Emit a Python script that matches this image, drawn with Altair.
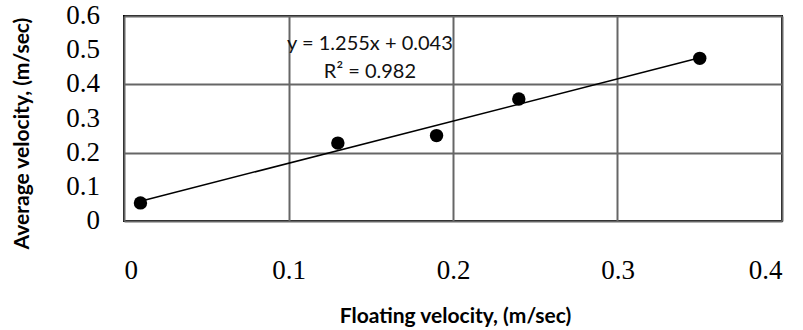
import altair as alt
import pandas as pd

floating_velocity = [0.01, 0.13, 0.19, 0.24, 0.35]
average_velocity = [0.053, 0.228, 0.25, 0.357, 0.476]
x_ticks = [0, 0.1, 0.2, 0.3, 0.4]
y_ticks = [0, 0.1, 0.2, 0.3, 0.4, 0.5, 0.6]
y_tick_labels = ["0", "0.1", "0.2", "0.3", "0.4", "0.5", "0.6"]
eq_labels = ["y = 1.255x + 0.043", "R² = 0.982"]
eq_x = [0.1495, 0.1495]
eq_y = [0.519, 0.437]

df = pd.DataFrame({"x": floating_velocity, "y": average_velocity})
ann = pd.DataFrame({"label": eq_labels, "x": eq_x, "y": eq_y})
ylab = pd.DataFrame({"y": y_ticks, "label": y_tick_labels})

xscale = alt.Scale(domain=[0, 0.4], nice=False, zero=False)
yscale = alt.Scale(domain=[0, 0.6], nice=False, zero=False)

xaxis = alt.Axis(
    values=x_ticks, format="~g", title="Floating velocity, (m/sec)",
    labelFont="Liberation Serif", labelFontSize=27, labelColor="black",
    labelPadding=36, ticks=False, domain=False, labelOverlap=False,
    grid=True, gridColor="#666666", gridWidth=2,
    titleFont="Lato", titleFontSize=21, titleFontWeight="bold", titleColor="black",
    titleX=331, titleY=95, titleBaseline="middle", titleAlign="center",
)
yaxis = alt.Axis(
    values=y_ticks, labels=False, title="Average velocity, (m/sec)",
    ticks=False, domain=False,
    grid=True, gridColor="#666666", gridWidth=2,
    titleFont="Lato", titleFontSize=21, titleFontWeight="bold", titleColor="black",
    titleX=-102, titleY=117, titleAngle=-90, titleBaseline="middle", titleAlign="center",
)

base = alt.Chart(df)
points = base.mark_circle(size=180, color="black", opacity=1).encode(
    x=alt.X("x:Q", scale=xscale, axis=xaxis),
    y=alt.Y("y:Q", scale=yscale, axis=yaxis),
)
trend = base.transform_regression("x", "y").mark_line(color="black", strokeWidth=1.5).encode(
    x=alt.X("x:Q", scale=xscale),
    y=alt.Y("y:Q", scale=yscale),
)
text = alt.Chart(ann).mark_text(font="Lato", fontSize=20, color="#111").encode(
    x=alt.X("x:Q", scale=xscale),
    y=alt.Y("y:Q", scale=yscale),
    text="label:N",
)
ylabels = alt.Chart(ylab).mark_text(
    font="Liberation Serif", fontSize=27, color="black", align="right", baseline="middle"
).encode(
    x=alt.value(-24),
    y=alt.Y("y:Q", scale=yscale),
    text="label:N",
)

chart = alt.layer(trend, points, text, ylabels).properties(
    width=658, height=205,
    autosize=alt.AutoSizeParams(type="none"),
    padding={"left": 124, "top": 16, "right": 21, "bottom": 109},
    background="white",
).configure_view(stroke="black", strokeWidth=2)

chart.save("out.html", embed_options={"renderer": "svg", "actions": False})
